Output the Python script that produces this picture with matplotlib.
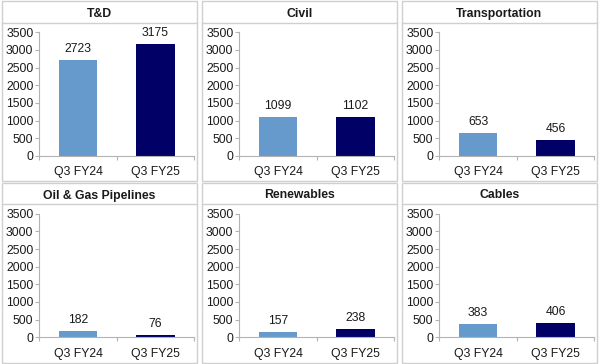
import matplotlib
matplotlib.use("Agg")
import matplotlib.pyplot as plt
from matplotlib.patches import Rectangle
from matplotlib.lines import Line2D

plt.rcParams['font.family'] = ['Liberation Sans', 'DejaVu Sans']

segments = ["T&D", "Civil", "Transportation", "Oil & Gas Pipelines", "Renewables", "Cables"]
periods = ["Q3 FY24", "Q3 FY25"]
fy24 = [2723, 1099, 653, 182, 157, 383]
fy25 = [3175, 1102, 456, 76, 238, 406]
yticks = [0, 500, 1000, 1500, 2000, 2500, 3000, 3500]

colors = ["#6699CC", "#000066"]
W, H = 600, 364
fig = plt.figure(figsize=(W / 100, H / 100), dpi=100)

def fx(x):
    return x / W

def fy(y):
    return 1 - y / H

col_off = [0, 200, 400]
rows = [
    dict(top=1.0, bot=180.5, sep=23.0, title=14.0, ax_top=32.3, ax_bot=156.0),
    dict(top=183.0, bot=362.5, sep=204.0, title=195.5, ax_top=213.7, ax_bot=337.3),
]
text_color = "#1a1a1a"
fs = 8.8

for i, name in enumerate(segments):
    r = rows[i // 3]
    xo = col_off[i % 3]
    pl, pr = xo + 1.5, xo + 197.0
    # panel border
    fig.add_artist(Rectangle((fx(pl), fy(r['bot'])), fx(pr - pl), (r['bot'] - r['top']) / H,
                             transform=fig.transFigure, fill=False, edgecolor="#cfcfcf", lw=1.0))
    fig.add_artist(Line2D([fx(pl), fx(pr)], [fy(r['sep']), fy(r['sep'])],
                          transform=fig.transFigure, color="#cfcfcf", lw=1.0))
    fig.text(fx((pl + pr) / 2), fy(r['title']), name, ha='center', va='center',
             fontsize=fs, fontweight='bold', color=text_color)

    axl, axr = xo + 39.3, xo + 194.3
    ax = fig.add_axes([fx(axl), fy(r['ax_bot']), fx(axr - axl), (r['ax_bot'] - r['ax_top']) / H])
    vals = [fy24[i], fy25[i]]
    bars = ax.bar([0, 1], vals, width=0.5, color=colors)
    for b, v in zip(bars, vals):
        ax.annotate(str(v), (b.get_x() + b.get_width() / 2, v), xytext=(0, 3.5),
                    textcoords='offset points', ha='center', va='bottom',
                    fontsize=fs, color=text_color)
    ax.set_xlim(-0.5, 1.5)
    ax.set_ylim(0, 3500)
    ax.set_yticks(yticks)
    ax.set_yticklabels([str(t) for t in yticks])
    ax.set_xticks([0, 1])
    ax.set_xticklabels(periods)
    ax.set_xticks([-0.5, 0.5, 1.5], minor=True)
    ax.tick_params(axis='x', which='major', length=0, pad=7.5, labelsize=fs, labelcolor=text_color)
    ax.tick_params(axis='x', which='minor', length=3, color="#b3b3b3", width=0.8)
    ax.tick_params(axis='y', length=3, pad=1.2, color="#b3b3b3", width=0.8,
                   labelsize=fs, labelcolor=text_color)
    for s in ['top', 'right']:
        ax.spines[s].set_visible(False)
    for s in ['left', 'bottom']:
        ax.spines[s].set_color("#b3b3b3")
        ax.spines[s].set_linewidth(0.8)
    ax.patch.set_alpha(0)

fig.savefig("out.png", dpi=100)
